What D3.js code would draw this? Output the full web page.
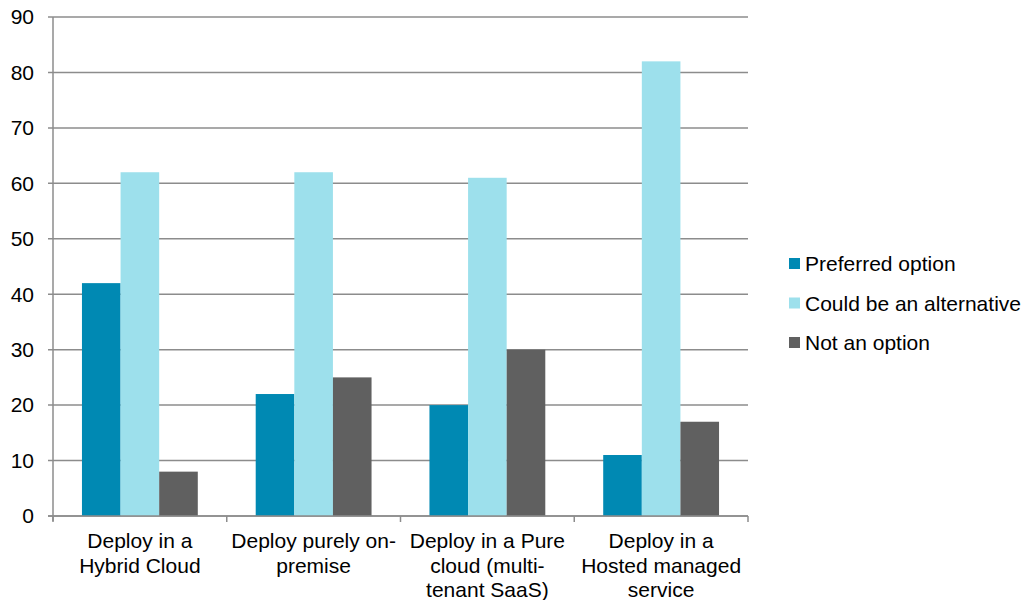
<!DOCTYPE html>
<html>
<head>
<meta charset="utf-8">
<script src="https://cdn.jsdelivr.net/npm/d3@7"></script>
<style>
  html, body { margin: 0; padding: 0; background: #fff; }
  svg { display: block; font-family: "Liberation Sans", Arial, sans-serif; }
</style>
</head>
<body>
<svg id="chart" width="1022" height="600"></svg>
<script>
// Deployment options survey
const categories = [
  ["Deploy in a", "Hybrid Cloud"],
  ["Deploy purely on-", "premise"],
  ["Deploy in a Pure", "cloud (multi-", "tenant SaaS)"],
  ["Deploy in a", "Hosted managed", "service"]
];
const seriesNames = ["Preferred option", "Could be an alternative", "Not an option"];
const preferred = [42, 22, 20, 11];
const alternative = [62, 62, 61, 82];
const notOption = [8, 25, 30, 17];
const yTicks = [0, 10, 20, 30, 40, 50, 60, 70, 80, 90];
const colors = ["#0089b3", "#9de0ec", "#606060"];

const series = [preferred, alternative, notOption];
const svg = d3.select("#chart");
const m = { left: 53, right: 748, top: 17, bottom: 516 };

const x = d3.scaleBand().domain(d3.range(categories.length)).range([m.left, m.right]).paddingInner(0).paddingOuter(0);
const xi = d3.scaleBand().domain(d3.range(series.length)).range([0, x.bandwidth()]).paddingOuter(0.75).paddingInner(0);
const y = d3.scaleLinear().domain([0, 90]).range([m.bottom, m.top]);

// horizontal gridlines
svg.append("g").selectAll("line").data(yTicks).join("line")
  .attr("x1", m.left - 5).attr("x2", m.right)
  .attr("y1", d => y(d)).attr("y2", d => y(d))
  .attr("stroke", "#8c8c8c").attr("stroke-width", 1.5);

// y tick labels
svg.append("g").selectAll("text").data(yTicks).join("text")
  .attr("x", 34).attr("y", d => y(d)).attr("dy", "0.35em")
  .attr("text-anchor", "end").attr("font-size", 21).attr("fill", "#000")
  .text(d => d);

// bars
series.forEach((vals, si) => {
  svg.append("g").selectAll("rect").data(vals).join("rect")
    .attr("x", (d, i) => x(i) + xi(si))
    .attr("width", xi.bandwidth())
    .attr("y", d => y(d))
    .attr("height", d => y(0) - y(d))
    .attr("fill", colors[si]);
});

// axes lines
svg.append("line").attr("x1", m.left).attr("x2", m.left).attr("y1", m.top).attr("y2", m.bottom + 5)
  .attr("stroke", "#8c8c8c").attr("stroke-width", 1.5);
svg.append("line").attr("x1", m.left - 5).attr("x2", m.right).attr("y1", m.bottom).attr("y2", m.bottom)
  .attr("stroke", "#8c8c8c").attr("stroke-width", 1.5);

// category tick marks
const catEdges = d3.range(categories.length + 1).map(i => m.left + i * x.step());
svg.append("g").selectAll("line").data(catEdges).join("line")
  .attr("x1", d => d).attr("x2", d => d).attr("y1", m.bottom).attr("y2", m.bottom + 6)
  .attr("stroke", "#8c8c8c").attr("stroke-width", 1.5);

// category labels
const catG = svg.append("g").selectAll("text").data(categories).join("text")
  .attr("text-anchor", "middle").attr("font-size", 21).attr("fill", "#000");
catG.selectAll("tspan").data((d, i) => d.map(t => ({ t, i }))).join("tspan")
  .attr("x", d => x(d.i) + x.bandwidth() / 2)
  .attr("y", (d, j) => 548 + j * 24.5)
  .text(d => d.t);

// legend
const legend = svg.append("g").selectAll("g").data(seriesNames).join("g")
  .attr("transform", (d, i) => `translate(789, ${264 + i * 39.5})`);
legend.append("rect").attr("x", 0).attr("y", -6).attr("width", 11).attr("height", 11)
  .attr("fill", (d, i) => colors[i]);
legend.append("text").attr("x", 16).attr("y", 0).attr("dy", "0.35em")
  .attr("font-size", 21).attr("fill", "#000").text(d => d);
</script>
</body>
</html>
